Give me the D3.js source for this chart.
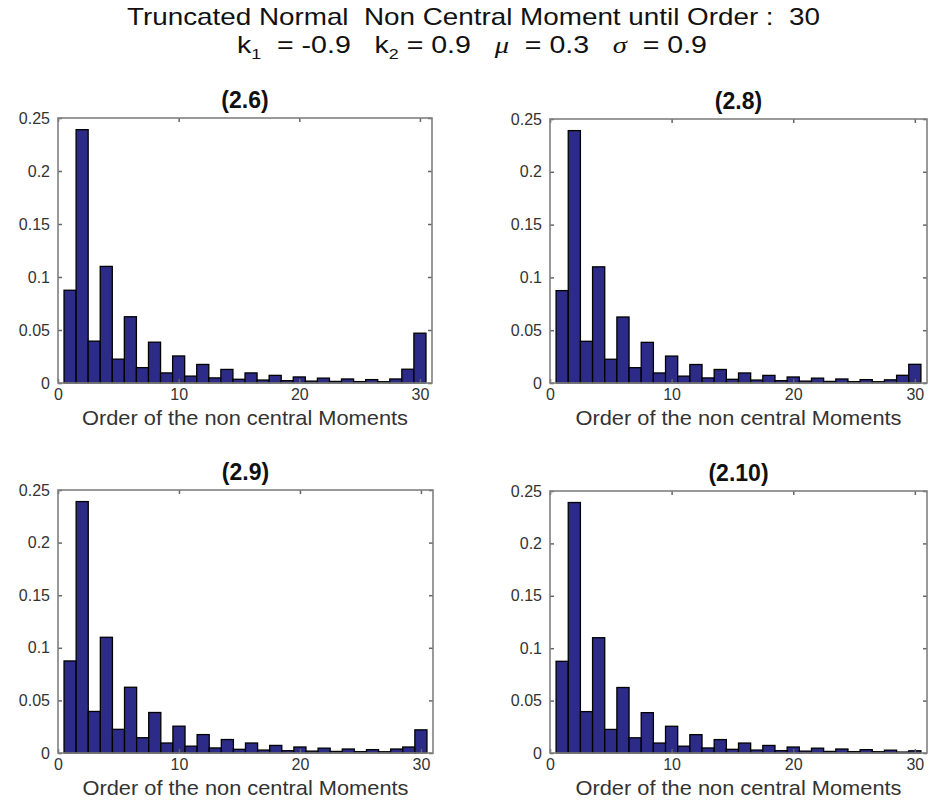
<!DOCTYPE html>
<html>
<head>
<meta charset="utf-8">
<script src="https://cdn.jsdelivr.net/npm/d3@7"></script>
<style>
  body { margin: 0; background: #fff; }
  text { font-family: "Liberation Sans", Arial, sans-serif; white-space: pre; }
</style>
</head>
<body>
<div id="chart"></div>
<script>
// Moment orders 1..30
var orders = d3.range(1, 31);

// Shared head of the four series (orders 1..27)
var head = [0.0875, 0.239, 0.0395, 0.110, 0.0225, 0.0625, 0.0145, 0.0385, 0.0095, 0.0255,
            0.0065, 0.0175, 0.0048, 0.0128, 0.0035, 0.0095, 0.0028, 0.0072, 0.0022, 0.0057,
            0.0018, 0.0046, 0.0015, 0.0038, 0.0013, 0.0032, 0.0012];

// Tails (orders 28..30) differ per panel
var values26 = head.concat([0.0038, 0.013, 0.047]);
var values28 = head.concat([0.0030, 0.0073, 0.0177]);
var values29 = head.concat([0.0038, 0.0057, 0.022]);
var values210 = head.concat([0.0027, 0.0009, 0.0021]);

var panelTitles = ["(2.6)", "(2.8)", "(2.9)", "(2.10)"];
var panelValues = [values26, values28, values29, values210];

var xTicks = [0, 10, 20, 30];
var yTicks = [0, 0.05, 0.1, 0.15, 0.2, 0.25];
var yTickLabels = ["0", "0.05", "0.1", "0.15", "0.2", "0.25"];
var xLabel = "Order of the non central Moments";

var width = 929, height = 803;

var svg = d3.select("#chart")
    .append("svg")
    .attr("width", width)
    .attr("height", height);

// Figure title (two lines)
svg.append("text")
    .attr("x", 127)
    .attr("y", 25)
    .attr("font-size", 24)
    .attr("fill", "#111")
    .attr("textLength", 693)
    .attr("lengthAdjust", "spacingAndGlyphs")
    .text("Truncated Normal  Non Central Moment until Order :  30");

var sub = svg.append("text")
    .attr("x", 237)
    .attr("y", 53)
    .attr("font-size", 24)
    .attr("fill", "#111")
    .attr("textLength", 470)
    .attr("lengthAdjust", "spacingAndGlyphs");
sub.append("tspan").text("k");
sub.append("tspan").attr("font-size", 15).attr("dy", 6).text("1");
sub.append("tspan").attr("dy", -6).text("  = -0.9   k");
sub.append("tspan").attr("font-size", 15).attr("dy", 6).text("2");
sub.append("tspan").attr("dy", -6).text(" = 0.9   ");
sub.append("tspan").attr("font-family", "Liberation Serif, serif").attr("font-style", "italic").text("\u03bc");
sub.append("tspan").text("  = 0.3   ");
sub.append("tspan").attr("font-family", "Liberation Serif, serif").attr("font-style", "italic").text("\u03c3");
sub.append("tspan").text("  = 0.9");

// Panel boxes
var panels = [
    { left: 58, top: 118, w: 374, h: 265 },
    { left: 550, top: 119, w: 377, h: 264 },
    { left: 58, top: 490, w: 375, h: 263 },
    { left: 550, top: 491, w: 377, h: 262 }
];

panels.forEach(function (p, i) {
    var data = orders.map(function (o, j) { return { order: o, value: panelValues[i][j] }; });

    var x = d3.scaleLinear().domain([0, 31]).range([0, p.w]);
    var y = d3.scaleLinear().domain([0, 0.25]).range([p.h, 0]);

    var g = svg.append("g").attr("transform", "translate(" + p.left + "," + p.top + ")");

    // bars
    g.selectAll(".bar")
        .data(data)
        .enter().append("rect")
        .attr("class", "bar")
        .attr("x", function (d) { return x(d.order - 0.5); })
        .attr("width", function (d) { return x(d.order + 0.5) - x(d.order - 0.5); })
        .attr("y", function (d) { return y(d.value); })
        .attr("height", function (d) { return y(0) - y(d.value); })
        .attr("fill", "#2c2c88")
        .attr("stroke", "#000")
        .attr("stroke-width", 1.3);

    // axes with inward ticks
    var xAxis = d3.axisBottom(x).tickValues(xTicks).tickSizeInner(-4).tickSizeOuter(0).tickPadding(6);
    var yAxis = d3.axisLeft(y).tickValues(yTicks).tickSizeInner(-4).tickSizeOuter(0).tickPadding(8)
        .tickFormat(function (d, k) { return yTickLabels[k]; });

    var gx = g.append("g").attr("transform", "translate(0," + p.h + ")").call(xAxis);
    var gy = g.append("g").call(yAxis);
    var gxTop = g.append("g").call(d3.axisTop(x).tickValues(xTicks).tickSizeInner(-4).tickSizeOuter(0).tickFormat(""));
    var gyRight = g.append("g").attr("transform", "translate(" + p.w + ",0)")
        .call(d3.axisRight(y).tickValues(yTicks).tickSizeInner(-4).tickSizeOuter(0).tickFormat(""));

    [gx, gy, gxTop, gyRight].forEach(function (a) {
        a.select(".domain").remove();
        a.selectAll("line").attr("stroke", "#666").attr("stroke-width", 1.5);
        a.selectAll("text")
            .attr("font-size", 16)
            .attr("fill", "#333")
            .attr("font-family", "Liberation Sans, Arial, sans-serif");
    });

    // axes box
    g.append("rect")
        .attr("width", p.w)
        .attr("height", p.h)
        .attr("fill", "none")
        .attr("stroke", "#808080")
        .attr("stroke-width", 1.6);

    // panel title
    g.append("text")
        .attr("x", p.w / 2)
        .attr("y", -10)
        .attr("text-anchor", "middle")
        .attr("font-size", 23)
        .attr("font-weight", "bold")
        .attr("fill", "#111")
        .text(panelTitles[i]);

    // x label
    g.append("text")
        .attr("x", p.w / 2)
        .attr("y", p.h + 42)
        .attr("text-anchor", "middle")
        .attr("font-size", 21)
        .attr("fill", "#333")
        .attr("textLength", 326)
        .attr("lengthAdjust", "spacingAndGlyphs")
        .text(xLabel);
});
</script>
</body>
</html>
